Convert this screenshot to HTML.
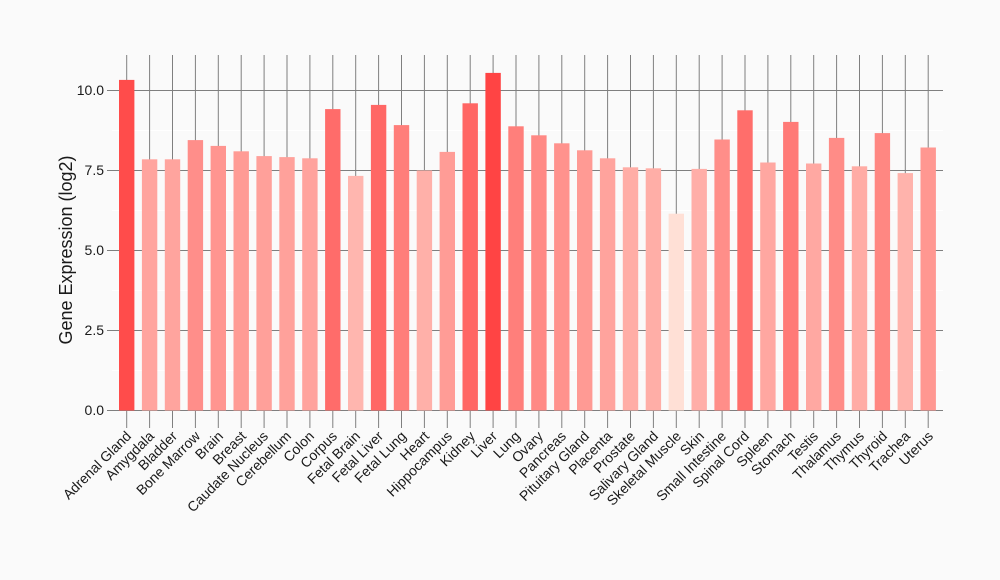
<!DOCTYPE html>
<html><head><meta charset="utf-8"><style>
html,body{margin:0;padding:0;background:#fafafa;}
svg{display:block;font-family:"Liberation Sans",Arial,sans-serif;}
</style></head><body>
<svg width="1000" height="580" viewBox="0 0 1000 580" xmlns="http://www.w3.org/2000/svg">
<rect width="1000" height="580" fill="#fafafa"/>
<g stroke="#ffffff" stroke-width="1">
<line x1="112" x2="943" y1="370.5" y2="370.5"/><line x1="112" x2="943" y1="290.5" y2="290.5"/><line x1="112" x2="943" y1="210.5" y2="210.5"/><line x1="112" x2="943" y1="130.5" y2="130.5"/>
</g>
<g stroke="#7f7f7f" stroke-width="1">
<line x1="112" x2="943" y1="410.5" y2="410.5"/><line x1="112" x2="943" y1="330.5" y2="330.5"/><line x1="112" x2="943" y1="250.5" y2="250.5"/><line x1="112" x2="943" y1="170.5" y2="170.5"/><line x1="112" x2="943" y1="90.5" y2="90.5"/>
<line x1="107" x2="112" y1="410.5" y2="410.5"/><line x1="107" x2="112" y1="330.5" y2="330.5"/><line x1="107" x2="112" y1="250.5" y2="250.5"/><line x1="107" x2="112" y1="170.5" y2="170.5"/><line x1="107" x2="112" y1="90.5" y2="90.5"/>
<line x1="126.7" x2="126.7" y1="55" y2="428"/><line x1="149.6" x2="149.6" y1="55" y2="428"/><line x1="172.5" x2="172.5" y1="55" y2="428"/><line x1="195.4" x2="195.4" y1="55" y2="428"/><line x1="218.3" x2="218.3" y1="55" y2="428"/><line x1="241.2" x2="241.2" y1="55" y2="428"/><line x1="264.1" x2="264.1" y1="55" y2="428"/><line x1="287" x2="287" y1="55" y2="428"/><line x1="309.9" x2="309.9" y1="55" y2="428"/><line x1="332.8" x2="332.8" y1="55" y2="428"/><line x1="355.7" x2="355.7" y1="55" y2="428"/><line x1="378.6" x2="378.6" y1="55" y2="428"/><line x1="401.5" x2="401.5" y1="55" y2="428"/><line x1="424.4" x2="424.4" y1="55" y2="428"/><line x1="447.3" x2="447.3" y1="55" y2="428"/><line x1="470.2" x2="470.2" y1="55" y2="428"/><line x1="493.1" x2="493.1" y1="55" y2="428"/><line x1="516" x2="516" y1="55" y2="428"/><line x1="538.9" x2="538.9" y1="55" y2="428"/><line x1="561.8" x2="561.8" y1="55" y2="428"/><line x1="584.7" x2="584.7" y1="55" y2="428"/><line x1="607.6" x2="607.6" y1="55" y2="428"/><line x1="630.5" x2="630.5" y1="55" y2="428"/><line x1="653.4" x2="653.4" y1="55" y2="428"/><line x1="676.3" x2="676.3" y1="55" y2="428"/><line x1="699.2" x2="699.2" y1="55" y2="428"/><line x1="722.1" x2="722.1" y1="55" y2="428"/><line x1="745" x2="745" y1="55" y2="428"/><line x1="767.9" x2="767.9" y1="55" y2="428"/><line x1="790.8" x2="790.8" y1="55" y2="428"/><line x1="813.7" x2="813.7" y1="55" y2="428"/><line x1="836.6" x2="836.6" y1="55" y2="428"/><line x1="859.5" x2="859.5" y1="55" y2="428"/><line x1="882.4" x2="882.4" y1="55" y2="428"/><line x1="905.3" x2="905.3" y1="55" y2="428"/><line x1="928.2" x2="928.2" y1="55" y2="428"/>
</g>
<g>
<rect x="119" y="79.9" width="15.4" height="330.6" fill="#FF4C4B"/>
<rect x="141.9" y="159.3" width="15.4" height="251.2" fill="#FFA49E"/>
<rect x="164.8" y="159.3" width="15.4" height="251.2" fill="#FFA49E"/>
<rect x="187.7" y="140.1" width="15.4" height="270.4" fill="#FF8E8A"/>
<rect x="210.6" y="145.9" width="15.4" height="264.6" fill="#FF9590"/>
<rect x="233.5" y="151.3" width="15.4" height="259.2" fill="#FF9B95"/>
<rect x="256.4" y="156.1" width="15.4" height="254.4" fill="#FFA09A"/>
<rect x="279.3" y="157.1" width="15.4" height="253.4" fill="#FFA19B"/>
<rect x="302.2" y="158.3" width="15.4" height="252.2" fill="#FFA39D"/>
<rect x="325.1" y="109.1" width="15.4" height="301.4" fill="#FF6C6A"/>
<rect x="348" y="175.9" width="15.4" height="234.6" fill="#FFB6AF"/>
<rect x="370.9" y="104.9" width="15.4" height="305.6" fill="#FF6765"/>
<rect x="393.8" y="125.1" width="15.4" height="285.4" fill="#FF7E7A"/>
<rect x="416.7" y="170.5" width="15.4" height="240" fill="#FFB0A9"/>
<rect x="439.6" y="151.9" width="15.4" height="258.6" fill="#FF9C96"/>
<rect x="462.5" y="103.3" width="15.4" height="307.2" fill="#FF6664"/>
<rect x="485.4" y="72.9" width="15.4" height="337.6" fill="#FF4444"/>
<rect x="508.3" y="126.3" width="15.4" height="284.2" fill="#FF7F7B"/>
<rect x="531.2" y="135.3" width="15.4" height="275.2" fill="#FF8985"/>
<rect x="554.1" y="143.3" width="15.4" height="267.2" fill="#FF928D"/>
<rect x="577" y="150.3" width="15.4" height="260.2" fill="#FF9A94"/>
<rect x="599.9" y="158.3" width="15.4" height="252.2" fill="#FFA39D"/>
<rect x="622.8" y="167.3" width="15.4" height="243.2" fill="#FFADA6"/>
<rect x="645.7" y="168.3" width="15.4" height="242.2" fill="#FFAEA7"/>
<rect x="668.6" y="213.7" width="15.4" height="196.8" fill="#FFE0D6"/>
<rect x="691.5" y="168.9" width="15.4" height="241.6" fill="#FFAEA8"/>
<rect x="714.4" y="139.5" width="15.4" height="271" fill="#FF8E89"/>
<rect x="737.3" y="110.3" width="15.4" height="300.2" fill="#FF6E6B"/>
<rect x="760.2" y="162.5" width="15.4" height="248" fill="#FFA7A1"/>
<rect x="783.1" y="121.9" width="15.4" height="288.6" fill="#FF7A77"/>
<rect x="806" y="163.5" width="15.4" height="247" fill="#FFA8A2"/>
<rect x="828.9" y="137.9" width="15.4" height="272.6" fill="#FF8C87"/>
<rect x="851.8" y="166.3" width="15.4" height="244.2" fill="#FFACA5"/>
<rect x="874.7" y="133.1" width="15.4" height="277.4" fill="#FF8782"/>
<rect x="897.6" y="173.1" width="15.4" height="237.4" fill="#FFB3AC"/>
<rect x="920.5" y="147.5" width="15.4" height="263" fill="#FF9791"/>
</g>
<g font-size="14" fill="#1a1a1a" text-anchor="end">
<text x="104" y="415">0.0</text><text x="104" y="335">2.5</text><text x="104" y="255">5.0</text><text x="104" y="175">7.5</text><text x="104" y="95">10.0</text>
</g>
<text transform="translate(72,250) rotate(-90)" font-size="18" text-anchor="middle" fill="#1a1a1a">Gene Expression (log2)</text>
<g font-size="14" fill="#1a1a1a" text-anchor="end">
<text transform="translate(132,437) rotate(-45)">Adrenal Gland</text>
<text transform="translate(155,437) rotate(-45)">Amygdala</text>
<text transform="translate(178,437) rotate(-45)">Bladder</text>
<text transform="translate(201,437) rotate(-45)">Bone Marrow</text>
<text transform="translate(224,437) rotate(-45)">Brain</text>
<text transform="translate(247,437) rotate(-45)">Breast</text>
<text transform="translate(269,437) rotate(-45)">Caudate Nucleus</text>
<text transform="translate(292,437) rotate(-45)">Cerebellum</text>
<text transform="translate(315,437) rotate(-45)">Colon</text>
<text transform="translate(338,437) rotate(-45)">Corpus</text>
<text transform="translate(361,437) rotate(-45)">Fetal Brain</text>
<text transform="translate(384,437) rotate(-45)">Fetal Liver</text>
<text transform="translate(407,437) rotate(-45)">Fetal Lung</text>
<text transform="translate(430,437) rotate(-45)">Heart</text>
<text transform="translate(453,437) rotate(-45)">Hippocampus</text>
<text transform="translate(476,437) rotate(-45)">Kidney</text>
<text transform="translate(498,437) rotate(-45)">Liver</text>
<text transform="translate(521,437) rotate(-45)">Lung</text>
<text transform="translate(544,437) rotate(-45)">Ovary</text>
<text transform="translate(567,437) rotate(-45)">Pancreas</text>
<text transform="translate(590,437) rotate(-45)">Pituitary Gland</text>
<text transform="translate(613,437) rotate(-45)">Placenta</text>
<text transform="translate(636,437) rotate(-45)">Prostate</text>
<text transform="translate(659,437) rotate(-45)">Salivary Gland</text>
<text transform="translate(682,437) rotate(-45)">Skeletal Muscle</text>
<text transform="translate(705,437) rotate(-45)">Skin</text>
<text transform="translate(727,437) rotate(-45)">Small Intestine</text>
<text transform="translate(750,437) rotate(-45)">Spinal Cord</text>
<text transform="translate(773,437) rotate(-45)">Spleen</text>
<text transform="translate(796,437) rotate(-45)">Stomach</text>
<text transform="translate(819,437) rotate(-45)">Testis</text>
<text transform="translate(842,437) rotate(-45)">Thalamus</text>
<text transform="translate(865,437) rotate(-45)">Thymus</text>
<text transform="translate(888,437) rotate(-45)">Thyroid</text>
<text transform="translate(911,437) rotate(-45)">Trachea</text>
<text transform="translate(934,437) rotate(-45)">Uterus</text>
</g>
</svg>
</body></html>
